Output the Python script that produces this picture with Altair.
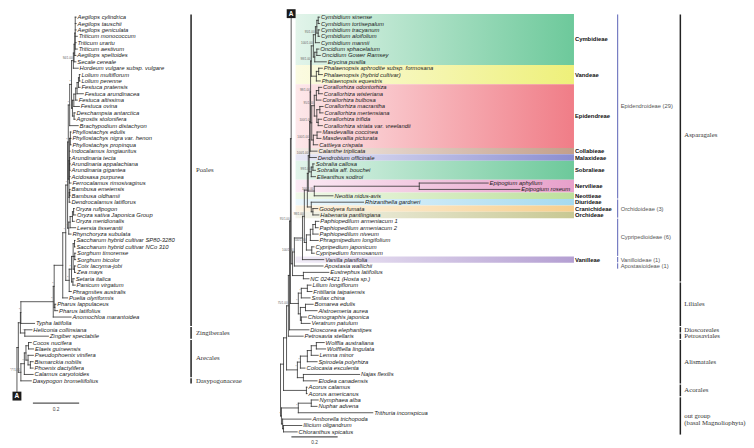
import altair as alt
import pandas as pd

# ============================================================ DATA
# ---- left panel: commelinid tree (attaches at "A" of the right tree)
LEFT_LEAVES = [
    "Aegilops cylindrica", "Aegilops tauschii", "Aegilops geniculata", "Triticum monococcum",
    "Triticum urartu", "Triticum aestivum", "Aegilops speltoides", "Secale cereale",
    "Hordeum vulgare subsp. vulgare", "Lolium multiflorum", "Lolium perenne", "Festuca pratensis",
    "Festuca arundinacea", "Festuca altissima", "Festuca ovina", "Deschampsia antarctica",
    "Agrostis stolonifera", "Brachypodium distachyon", "Phyllostachys edulis",
    "Phyllostachys nigra var. henon", "Phyllostachys propinqua", "Indocalamus longiauritus",
    "Arundinaria tecta", "Arundinaria appalachiana", "Arundinaria gigantea", "Acidosasa purpurea",
    "Ferrocalamus rimosivaginus", "Bambusa emeiensis", "Bambusa oldhamii", "Dendrocalamus latiflorus",
    "Oryza rufipogon", "Oryza sativa Japonica Group", "Oryza meridionalis", "Leersia tisserantii",
    "Rhynchoryza subulata", "Saccharum hybrid cultivar SP80-3280", "Saccharum hybrid cultivar NCo 310",
    "Sorghum timorense", "Sorghum bicolor", "Coix lacryma-jobi", "Zea mays", "Setaria italica",
    "Panicum virgatum", "Phragmites australis", "Puelia olyriformis", "Pharus lappulaceus",
    "Pharus latifolius", "Anomochloa marantoidea", "Typha latifolia", "Heliconia collinsiana",
    "Zingiber spectabile", "Cocos nucifera", "Elaeis guineensis", "Pseudophoenix vinifera",
    "Bismarckia nobilis", "Phoenix dactylifera", "Calamus caryotoides", "Dasypogon bromeliifolius",
]
# distance of each tip from the root (substitutions / site)
LEFT_TIP_DEPTH = [
    0.256, 0.256, 0.256, 0.261, 0.256, 0.261, 0.255, 0.255, 0.265,
    0.273, 0.273, 0.273, 0.287, 0.261, 0.270, 0.252, 0.252, 0.265,
    0.234, 0.234, 0.234, 0.230, 0.230, 0.230, 0.230, 0.230, 0.234, 0.230, 0.230, 0.230,
    0.248, 0.254, 0.248, 0.254, 0.234,
    0.251, 0.251, 0.254, 0.254, 0.254, 0.254, 0.248, 0.252, 0.235,
    0.219, 0.168, 0.176, 0.234, 0.076, 0.065, 0.136,
    0.062, 0.072, 0.071, 0.070, 0.070, 0.070, 0.062,
]
# clade: (distance from root, children); ints are leaf indices, "A" is the connector
LEFT_CLADES = {
    "R": (0.000, ["N1", "A"]),
    "N1": (0.006, ["PZ", "AD"]),
    "PZ": (0.015, ["Poales", "Zing"]),
    "Poales": (0.017, ["Poaceae", 48]),
    "Poaceae": (0.157, ["P1", 47]),
    "P1": (0.161, ["P2", "Pharus"]),
    "P2": (0.198, ["P3", 44]),
    "P3": (0.211, ["BOP", "PACMAD"]),
    "BOP": (0.219, ["BP", "Oryzoideae"]),
    "BP": (0.222, ["Pooideae", "Bambusoideae"]),
    "Pooideae": (0.228, ["Core", 17]),
    "Core": (0.236, ["Triticeae", "Poeae"]),
    "Triticeae": (0.244, ["Tr0", 8]),
    "Tr0": (0.247, ["Tr1", 7]),
    "Tr1": (0.250, ["Tr2", 6]),
    "Tr2": (0.252, [0, 1, 2, 3, 4, 5]),
    "Poeae": (0.240, ["Loliinae", "DesAg"]),
    "Loliinae": (0.246, ["L1", 14]),
    "L1": (0.254, ["L2", 13]),
    "L2": (0.260, ["L3", 12]),
    "L3": (0.266, ["Lol", 11]),
    "Lol": (0.270, [9, 10]),
    "DesAg": (0.247, [15, 16]),
    "Bambusoideae": (0.225, ["Arundinarieae", "Bambuseae"]),
    "Arundinarieae": (0.227, ["Phyllo", 21, "Arund", 25, 26]),
    "Phyllo": (0.231, [18, 19, 20]),
    "Arund": (0.228, [22, 23, 24]),
    "Bambuseae": (0.226, ["Bambusa", 29]),
    "Bambusa": (0.228, [27, 28]),
    "Oryzoideae": (0.224, ["Oryzeae", 34]),
    "Oryzeae": (0.230, ["Oryza", 33]),
    "Oryza": (0.240, ["Os", 32]),
    "Os": (0.245, [30, 31]),
    "PACMAD": (0.226, ["Panicoideae", 43]),
    "Panicoideae": (0.236, ["Andro", "Pan"]),
    "Andro": (0.243, ["Sacch", "Sorg", "CZ"]),
    "Sacch": (0.249, [35, 36]),
    "Sorg": (0.250, [37, 38]),
    "CZ": (0.249, [39, 40]),
    "Pan": (0.242, [41, 42]),
    "Pharus": (0.164, [45, 46]),
    "Zing": (0.034, [49, 50]),
    "AD": (0.017, ["Arecales", 57]),
    "Arecales": (0.032, ["A1", 56]),
    "A1": (0.039, ["A2", "A3"]),
    "A2": (0.050, [51, 52]),
    "A3": (0.048, [53, "A4"]),
    "A4": (0.058, [54, 55]),
}
LEFT_SUPPORT = {
    "Triticeae": "94/1.00", "Core": "*", "Pooideae": "*", "BP": "*", "BOP": "*",
    "Oryzoideae": "*", "PACMAD": "*", "Panicoideae": "*", "P3": "*", "P1": "*",
    "Poaceae": "*", "Poales": "*", "Zing": "*", "Arecales": "*", "AD": "*/*/1.00",
}
LEFT_ORDERS = [("Poales", 0, 48), ("Zingiberales", 49, 50), ("Arecales", 51, 56),
               ("Dasypogonaceae", 57, 57)]

# ---- right panel: orchids, other monocots and outgroup
RIGHT_LEAVES = [
    "Cymbidium sinense", "Cymbidium tortisepalum", "Cymbidium tracyanum", "Cymbidium aloifolium",
    "Cymbidium mannii", "Oncidium sphacelatum", "Oncidium Gower Ramsey", "Erycina pusilla",
    "Phalaenopsis aphrodite subsp. formosana", "Phalaenopsis (hybrid cultivar)",
    "Phalaenopsis equestris", "Corallorhiza odontorhiza", "Corallorhiza wisteriana",
    "Corallorhiza bulbosa", "Corallorhiza macrantha", "Corallorhiza mertensiana",
    "Corallorhiza trifida", "Corallorhiza striata var. vreelandii", "Masdevallia coccinea",
    "Masdevallia picturata", "Cattleya crispata", "Calanthe triplicata", "Dendrobium officinale",
    "Sobralia callosa", "Sobralia aff. bouchei", "Elleanthus sodiroi", "Epipogium aphyllum",
    "Epipogium roseum", "Neottia nidus-avis", "Rhizanthella gardneri", "Goodyera fumata",
    "Habenaria pantlingiana", "Paphiopedilum armeniacum 1", "Paphiopedilum armeniacum 2",
    "Paphiopedilum niveum", "Phragmipedium longifolium", "Cypripedium japonicum",
    "Cypripedium formosanum", "Vanilla planifolia", "Apostasia wallichii", "Eustrephus latifolius",
    "NC 024421 (Hosta sp.)", "Lilium longiflorum", "Fritillaria taipaiensis", "Smilax china",
    "Bomarea edulis", "Alstroemeria aurea", "Chionographis japonica", "Veratrum patulum",
    "Dioscorea elephantipes", "Petrosavia stellaris", "Wolffia australiana", "Wolffiella lingulata",
    "Lemna minor", "Spirodela polyrhiza", "Colocasia esculenta", "Najas flexilis",
    "Elodea canadensis", "Acorus calamus", "Acorus americanus", "Nymphaea alba", "Nuphar advena",
    "Trithuria inconspicua", "Amborella trichopoda", "Illicium oligandrum", "Chloranthus spicatus",
]
RIGHT_TIP_DEPTH = [
    0.169, 0.169, 0.169, 0.169, 0.169, 0.166, 0.172, 0.198,
    0.181, 0.181, 0.172,
    0.178, 0.181, 0.175, 0.184, 0.184, 0.178, 0.181, 0.175, 0.175, 0.161,
    0.158, 0.155, 0.146, 0.151, 0.151,
    0.898, 1.035, 0.227, 0.359, 0.161, 0.166,
    0.166, 0.163, 0.163, 0.163, 0.145, 0.146,
    0.187, 0.184, 0.209, 0.123,
    0.132, 0.136, 0.128, 0.141, 0.158, 0.112, 0.128, 0.123, 0.098,
    0.189, 0.195, 0.163, 0.158, 0.106, 0.342, 0.158,
    0.115, 0.115, 0.163, 0.158, 0.399, 0.132, 0.092, 0.072,
]
RIGHT_CLADES = {
    "RR": (0.000, ["MONO", "OUT"]),
    "MONO": (0.013, ["M1", "Acorales"]),
    "M1": (0.026, ["M2", "Alismatales"]),
    "M2": (0.034, ["M3", 50]),
    "M3": (0.039, ["M4", 49]),
    "M4": (0.043, ["AP", "Liliales"]),
    "AP": (0.046, ["A", "Asparagales"]),
    "Asparagales": (0.052, ["Orchid", "AspRest"]),
    "Orchid": (0.060, ["O1", 39]),
    "O1": (0.095, ["O2", 38]),
    "O2": (0.103, ["O3", "Cyprip"]),
    "O3": (0.116, ["Epid", "Orchidoideae"]),
    "Epid": (0.120, ["E1", "Nerv"]),
    "E1": (0.124, ["E2", "Sobr"]),
    "E2": (0.126, ["E3", 22]),
    "E3": (0.128, ["E4", 21]),
    "E4": (0.130, ["VC", "Epidendreae"]),
    "VC": (0.133, ["Cymb", "Vandeae"]),
    "Cymb": (0.142, ["Cym", "Onc"]),
    "Cym": (0.151, ["Cy1", 4]),
    "Cy1": (0.157, ["Cy2", "Cy3"]),
    "Cy2": (0.163, [0, 1]),
    "Cy3": (0.163, [2, 3]),
    "Onc": (0.148, ["On1", 7]),
    "On1": (0.157, [5, 6]),
    "Vandeae": (0.155, ["Ph1", 10]),
    "Ph1": (0.165, [8, 9]),
    "Epidendreae": (0.135, ["Cor", "Pleur"]),
    "Cor": (0.146, ["C1", "C3"]),
    "C1": (0.155, ["C2", 13]),
    "C2": (0.165, [11, 12]),
    "C3": (0.157, ["C4", "C5"]),
    "C4": (0.170, [14, 15]),
    "C5": (0.163, [16, 17]),
    "Pleur": (0.142, ["Masd", 20]),
    "Masd": (0.158, [18, 19]),
    "Sobr": (0.133, ["Sb", 25]),
    "Sb": (0.140, [23, 24]),
    "Nerv": (0.146, ["Epipogium", 28]),
    "Epipogium": (0.600, [26, 27]),
    "Orchidoideae": (0.133, [29, "Orc2"]),
    "Orc2": (0.140, [30, 31]),
    "Cyprip": (0.112, ["Cp1", "Cp4"]),
    "Cp1": (0.129, ["Cp2", 35]),
    "Cp2": (0.140, ["Cp3", 34]),
    "Cp3": (0.151, [32, 33]),
    "Cp4": (0.135, [36, 37]),
    "AspRest": (0.099, [40, 41]),
    "Liliales": (0.077, ["Lil1", "Lil3"]),
    "Lil1": (0.090, ["Lil2", 44]),
    "Lil2": (0.116, [42, 43]),
    "Lil3": (0.086, ["Alstro", "Melanth"]),
    "Alstro": (0.108, [45, 46]),
    "Melanth": (0.090, [47, 48]),
    "Alismatales": (0.073, ["Araceae", "Hydro"]),
    "Araceae": (0.086, ["L1", 55]),
    "L1": (0.116, ["L2", 54]),
    "L2": (0.133, ["L3", 53]),
    "L3": (0.155, [51, 52]),
    "Hydro": (0.099, [56, 57]),
    "Acorales": (0.112, [58, 59]),
    "OUT": (0.004, ["Nymphaeales", "AmbIl"]),
    "Nymphaeales": (0.077, ["Nym2", 62]),
    "Nym2": (0.133, [60, 61]),
    "AmbIl": (0.009, [63, "Il"]),
    "Il": (0.013, [64, 65]),
}
RIGHT_SUPPORT = {
    "Cym": "95/1.00", "Cymb": "100/1.00", "VC": "98/1.00", "Cor": "95/1.00",
    "Epidendreae": "100/1.00", "E4": "98/1.00", "E2": "100/1.00", "Sobr": "99/1.00",
    "E1": "100/1.00", "Nerv": "100/1.00", "O2": "98/1.00", "Cyprip": "100/1.00",
    "Orchid": "100/1.00", "M4": "95/1.00", "M2": "75/1.00", "Liliales": "*",
    "Alismatales": "*", "Araceae": "*", "Lil1": "*", "OUT": "*", "Nymphaeales": "*",
}
RIGHT_TRIBES = [("Cymbidieae", 0, 7), ("Vandeae", 8, 10), ("Epidendreae", 11, 20),
                ("Collabieae", 21, 21), ("Malaxideae", 22, 22), ("Sobralieae", 23, 25),
                ("Nervilieae", 26, 27), ("Neottieae", 28, 28), ("Diurideae", 29, 29),
                ("Cranichideae", 30, 30), ("Orchideae", 31, 31), ("Vanilleae", 38, 38)]
RIGHT_SUBFAMILIES = [("Epidendroideae (29)", 0, 28), ("Orchidoideae (3)", 29, 31),
                     ("Cypripedioideae (6)", 32, 37), ("Vanilloideae (1)", 38, 38),
                     ("Apostasioideae (1)", 39, 39)]
RIGHT_ORDERS = [("Asparagales", 0, 41), ("Liliales", 42, 48), ("Dioscoreales", 49, 49),
                ("Petrosaviales", 50, 50), ("Alismatales", 51, 57), ("Acorales", 58, 59),
                ("out group\n(basal Magnoliophyta)", 60, 65)]
SCALE_BAR_LENGTH = 0.2

# ============================================================ STYLE / LAYOUT
TRIBE_COLORS = {
    "Cymbidieae": ("#e2f4ea", "#6dc99b"), "Vandeae": ("#fbfbe2", "#eef07a"),
    "Epidendreae": ("#fde8ea", "#f07d87"), "Collabieae": ("#f3ece7", "#c39f8b"),
    "Malaxideae": ("#e8e8f6", "#8b8ed1"), "Sobralieae": ("#e2f4ea", "#6dc99b"),
    "Nervilieae": ("#fbeaf4", "#e7a0ca"), "Neottieae": ("#f0f8e8", "#bde09c"),
    "Diurideae": ("#ebf7fc", "#a6daef"), "Cranichideae": ("#fdf4e4", "#f7cf8e"),
    "Orchideae": ("#f4f4eb", "#c8c893"), "Vanilleae": ("#f1ecf7", "#b49fd2"),
}
ROWS = (-1.25, 67.34)
PANEL_H = 440
LEFT = dict(width=262, xdom=(-0.0387, 1.0882), anchor_row=59.39, bar_start=0.069,
            bar_row=60.48, bar_label_row=61.57, order_x=0.753, order_label_x=0.774)
RIGHT = dict(width=476, xdom=(-0.0516, 1.9957), anchor_row=-0.55, bar_start=0.047,
             bar_row=65.78, bar_label_row=66.72, band_x=(0.065, 1.269), tribe_x=1.273,
             subfam_x=1.458, subfam_label_x=1.471, order_x=1.729, order_label_x=1.746)
ORDER_LABEL_ROW = {"Asparagales": 18.4}
SANS, SERIF = "Liberation Sans", "Liberation Serif"
LEAF_FONT_SIZE = 5.9


# ============================================================ TREE LAYOUT
def tree_frames(clades, leaves, tip_depth, anchor_row):
    segs, nodes, anchor = [], [], {}
    root = next(iter(clades))

    def walk(key, parent_depth):
        if key == "A":
            depth, row = parent_depth, anchor_row
            anchor.update(x=depth, y=row, label="A")
        elif isinstance(key, int):
            depth, row = tip_depth[key], float(key)
        else:
            depth, kids = clades[key]
            rows = [walk(k, depth) for k in kids]
            row = (rows[0] + rows[-1]) / 2
            segs.append({"x": depth, "x2": depth, "y": rows[0], "y2": rows[-1]})
            nodes.append({"name": key, "x": depth, "y": row})
        if parent_depth is not None:
            segs.append({"x": parent_depth, "x2": depth, "y": row, "y2": row})
        return row

    walk(root, None)
    tips = pd.DataFrame({"label": leaves, "x": tip_depth, "y": list(range(len(leaves)))})
    return pd.DataFrame(segs), pd.DataFrame(nodes), tips, pd.DataFrame([anchor])


def X(dom):
    return alt.X("x:Q", scale=alt.Scale(domain=list(dom), nice=False, zero=False), axis=None)


def Y():
    return alt.Y("y:Q", scale=alt.Scale(domain=list(ROWS), nice=False, zero=False, reverse=True),
                 axis=None)


def tree_layers(leaves, tips_depth, clades, support, P):
    segs, nodes, tips, anchor = tree_frames(clades, leaves, tips_depth, P["anchor_row"])
    dom = P["xdom"]
    sup = nodes[nodes["name"].isin(list(support.keys()))].copy()
    sup["label"] = sup["name"].map(support)
    bar = pd.DataFrame({"x": [P["bar_start"]], "x2": [P["bar_start"] + SCALE_BAR_LENGTH],
                        "y": [P["bar_row"]]})
    bar_lab = pd.DataFrame({"x": [P["bar_start"] + SCALE_BAR_LENGTH / 2], "y": [P["bar_label_row"]],
                            "label": [f"{SCALE_BAR_LENGTH:g}"]})
    return [
        alt.Chart(segs).mark_rule(color="#333333", strokeWidth=0.8, strokeCap="square").encode(
            x=X(dom), x2="x2:Q", y=Y(), y2="y2:Q"),
        alt.Chart(tips).mark_text(align="left", baseline="middle", dx=1.4, fontSize=LEAF_FONT_SIZE,
                                  fontStyle="italic", font=SANS, color="#1a1a1a").encode(
            x=X(dom), y=Y(), text="label:N"),
        alt.Chart(sup).mark_text(align="right", baseline="bottom", dx=-0.8, dy=-0.4, fontSize=3,
                                 font=SANS, color="#666666").encode(x=X(dom), y=Y(), text="label:N"),
        alt.Chart(anchor).mark_square(size=80, filled=True, color="#1a1a1a", opacity=1).encode(
            x=X(dom), y=Y()),
        alt.Chart(anchor).mark_text(fontSize=6.5, fontWeight="bold", font=SANS, color="white",
                                    baseline="middle", align="center").encode(
            x=X(dom), y=Y(), text="label:N"),
        alt.Chart(bar).mark_rule(color="#555555", strokeWidth=1.2).encode(x=X(dom), x2="x2:Q", y=Y()),
        alt.Chart(bar_lab).mark_text(fontSize=4.8, font=SANS, color="#444444", baseline="middle").encode(
            x=X(dom), y=Y(), text="label:N"),
    ]


def bracket_layers(groups, bar_x, label_x, dom, color, width, font, size, label_color,
                   label_row=None, line_height=7, weight="normal"):
    label_row = label_row or {}
    br = pd.DataFrame([{"x": bar_x, "y": a - 0.42, "y2": b + 0.42} for _, a, b in groups])
    lab = pd.DataFrame([{"x": label_x, "y": label_row.get(n, (a + b) / 2), "label": n}
                        for n, a, b in groups])
    return [
        alt.Chart(br).mark_rule(color=color, strokeWidth=width).encode(x=X(dom), y=Y(), y2="y2:Q"),
        alt.Chart(lab).mark_text(align="left", baseline="middle", font=font, fontSize=size,
                                 fontWeight=weight, color=label_color, lineBreak="\n",
                                 lineHeight=line_height).encode(
            x=X(dom), y=Y(), text="label:N"),
    ]


# ---------------- left panel
left_layers = tree_layers(LEFT_LEAVES, LEFT_TIP_DEPTH, LEFT_CLADES, LEFT_SUPPORT, LEFT)
left_layers += bracket_layers(LEFT_ORDERS, LEFT["order_x"], LEFT["order_label_x"], LEFT["xdom"],
                              "#222222", 1.5, SERIF, 6.8, "#333333")
left = alt.layer(*left_layers).properties(width=LEFT["width"], height=PANEL_H)

# ---------------- right panel
rdom = RIGHT["xdom"]
band_layers = []
for name, a, b in RIGHT_TRIBES:
    c0, c1 = TRIBE_COLORS[name]
    df = pd.DataFrame({"x": [RIGHT["band_x"][0]], "x2": [RIGHT["band_x"][1]],
                       "y": [a - 0.5], "y2": [b + 0.5]})
    grad = alt.LinearGradient(gradient="linear", x1=0, y1=0, x2=1, y2=0,
                              stops=[alt.GradientStop(color=c0, offset=0),
                                     alt.GradientStop(color=c1, offset=1)])
    band_layers.append(alt.Chart(df).mark_rect(fill=grad).encode(
        x=X(rdom), x2="x2:Q", y=Y(), y2="y2:Q"))

tribe_lab = pd.DataFrame([{"x": RIGHT["tribe_x"], "y": (a + b) / 2, "label": n}
                          for n, a, b in RIGHT_TRIBES])
right_layers = band_layers
right_layers += tree_layers(RIGHT_LEAVES, RIGHT_TIP_DEPTH, RIGHT_CLADES, RIGHT_SUPPORT, RIGHT)
right_layers.append(alt.Chart(tribe_lab).mark_text(
    align="left", baseline="middle", font=SANS, fontSize=5.9, fontWeight="bold",
    color="#111111").encode(x=X(rdom), y=Y(), text="label:N"))
right_layers += bracket_layers(RIGHT_SUBFAMILIES, RIGHT["subfam_x"], RIGHT["subfam_label_x"], rdom,
                               "#5b62b5", 1.0, SANS, 5.8, "#555555")
right_layers += bracket_layers(RIGHT_ORDERS, RIGHT["order_x"], RIGHT["order_label_x"], rdom,
                               "#222222", 1.5, SERIF, 6.8, "#333333", ORDER_LABEL_ROW)
right = alt.layer(*right_layers).properties(width=RIGHT["width"], height=PANEL_H)

chart = alt.hconcat(left, right, spacing=0, bounds="flush").properties(
    padding=0).configure_view(stroke=None)

chart.save("out.html", embed_options={"renderer": "svg", "actions": False})
